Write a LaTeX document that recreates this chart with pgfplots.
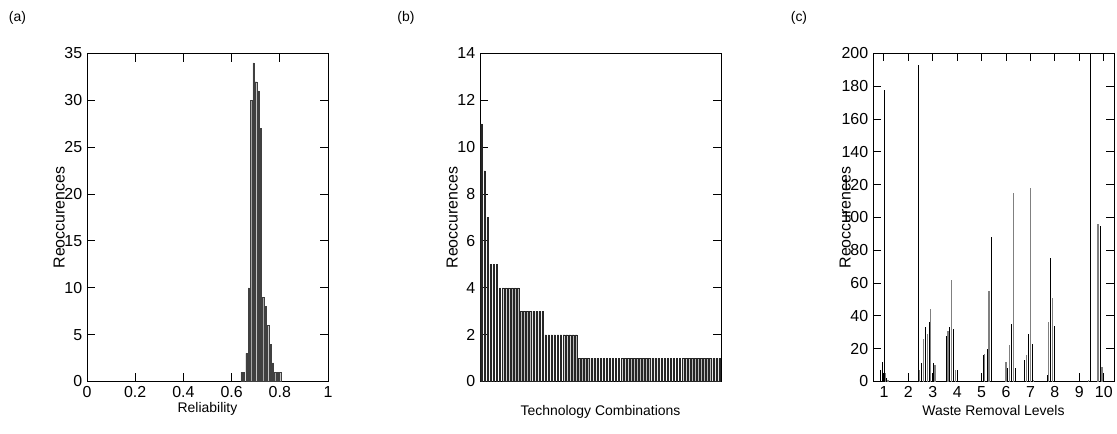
\documentclass[border=0pt]{standalone}
\usepackage{fontspec}
\setmainfont{Liberation Sans}
\usepackage{pgfplots}
\pgfplotsset{compat=1.18}

\pgfplotstableread{
x y
0.641 1
0.651 1
0.661 3
0.671 10
0.681 30
0.691 34
0.701 32
0.711 31
0.721 27
0.731 9
0.741 8
0.751 6
0.761 4
0.771 2
0.781 1
0.791 1
0.801 1
}\reldata

\pgfplotstableread{
x y
1 11
2 9
3 7
4 5
5 5
6 5
7 4
8 4
9 4
10 4
11 4
12 4
13 4
14 3
15 3
16 3
17 3
18 3
19 3
20 3
21 3
22 2
23 2
24 2
25 2
26 2
27 2
28 2
29 2
30 2
31 2
32 2
33 1
34 1
35 1
36 1
37 1
38 1
39 1
40 1
41 1
42 1
43 1
44 1
45 1
46 1
47 1
48 1
49 1
50 1
51 1
52 1
53 1
54 1
55 1
56 1
57 1
58 1
59 1
60 1
61 1
62 1
63 1
64 1
65 1
66 1
67 1
68 1
69 1
70 1
71 1
72 1
73 1
74 1
75 1
76 1
77 1
78 1
79 1
}\techdata

\pgfplotstableread{
x y
0.852 7
0.934 12
1.016 178
1.110 2
2.393 193
2.545 11
2.709 33
2.844 36
3.008 11
3.557 28
3.693 33
3.828 32
3.992 7
5.057 16
5.221 20
5.385 88
6.070 8
6.220 35
6.369 8
6.738 13
6.902 29
7.066 23
7.680 4
7.832 75
7.996 34
9.443 210
9.861 95
}\wasteA

\pgfplotstableread{
x y
1.057 5
1.164 1
2.463 7
2.627 26
2.779 29
2.914 44
3.090 10
3.623 31
3.762 62
3.926 7
5.127 17
5.303 55
6.000 12
6.140 22
6.303 115
6.820 16
6.984 118
7.130 1
7.750 36
7.914 51
9.377 1
9.766 96
9.930 9
}\wasteB

\begin{document}
\fontsize{14}{16}\selectfont
\begin{tikzpicture}
\useasboundingbox (0,0) rectangle (1117bp,434bp);
\pgfplotsset{
 every axis/.append style={
  scale only axis, width=241bp, height=328bp, anchor=south west,
  tick align=inside, tick pos=both, major tick length=8bp,
  axis line style={line width=1bp},
  every tick/.style={black,line width=1bp},
  /pgf/number format/assume math mode=true,
  ticklabel style={font=\fontsize{16}{18}\selectfont},
  xlabel style={font=\fontsize{14}{16}\selectfont},
  ylabel style={font=\fontsize{16}{18}\selectfont,at={(axis description cs:-0.115,0.5)},anchor=center},
  ymin=0,
 }
}
\node at (17.5bp,416.5bp) {(a)};
\node at (406bp,416.5bp) {(b)};
\node at (799bp,416.5bp) {(c)};

\begin{axis}[at={(87bp,52.5bp)}, xmin=0, xmax=1, ymax=35,
  xtick={0,0.2,0.4,0.6,0.8,1}, ytick={0,5,10,15,20,25,30,35},
  xlabel={Reliability}, ylabel={Reoccurences},
  xlabel style={at={(axis description cs:0.5,-0.083)},anchor=center}]
\addplot[ybar, bar width=1.4bp, bar shift=0pt, fill=gray!70, draw=black!75, line width=0.2bp] table {\reldata};
\end{axis}

\begin{axis}[at={(480bp,52.5bp)}, xmin=0.5, xmax=79.5, ymax=14,
  xtick=\empty, ytick={0,2,4,6,8,10,12,14},
  xlabel={Technology Combinations}, ylabel={Reoccurences},
  xlabel style={at={(axis description cs:0.5,-0.093)},anchor=center}]
\addplot[ybar, bar width=1.5bp, bar shift=0pt, fill=gray!55, draw=black!85, line width=0.2bp] table {\techdata};
\end{axis}

\begin{axis}[at={(873bp,52.5bp)}, xmin=0.55, xmax=10.42, ymax=200,
  xtick={1,2,3,4,5,6,7,8,9,10}, ytick={0,20,40,60,80,100,120,140,160,180,200},
  xlabel={Waste Removal Levels}, ylabel={Reoccurences},
  xlabel style={at={(axis description cs:0.5,-0.087)},anchor=center}]
\addplot[ycomb, black, line width=1bp, mark=none] table {\wasteA};
\addplot[ycomb, gray, line width=1.2bp, mark=none] table {\wasteB};
\end{axis}
\end{tikzpicture}
\end{document}
